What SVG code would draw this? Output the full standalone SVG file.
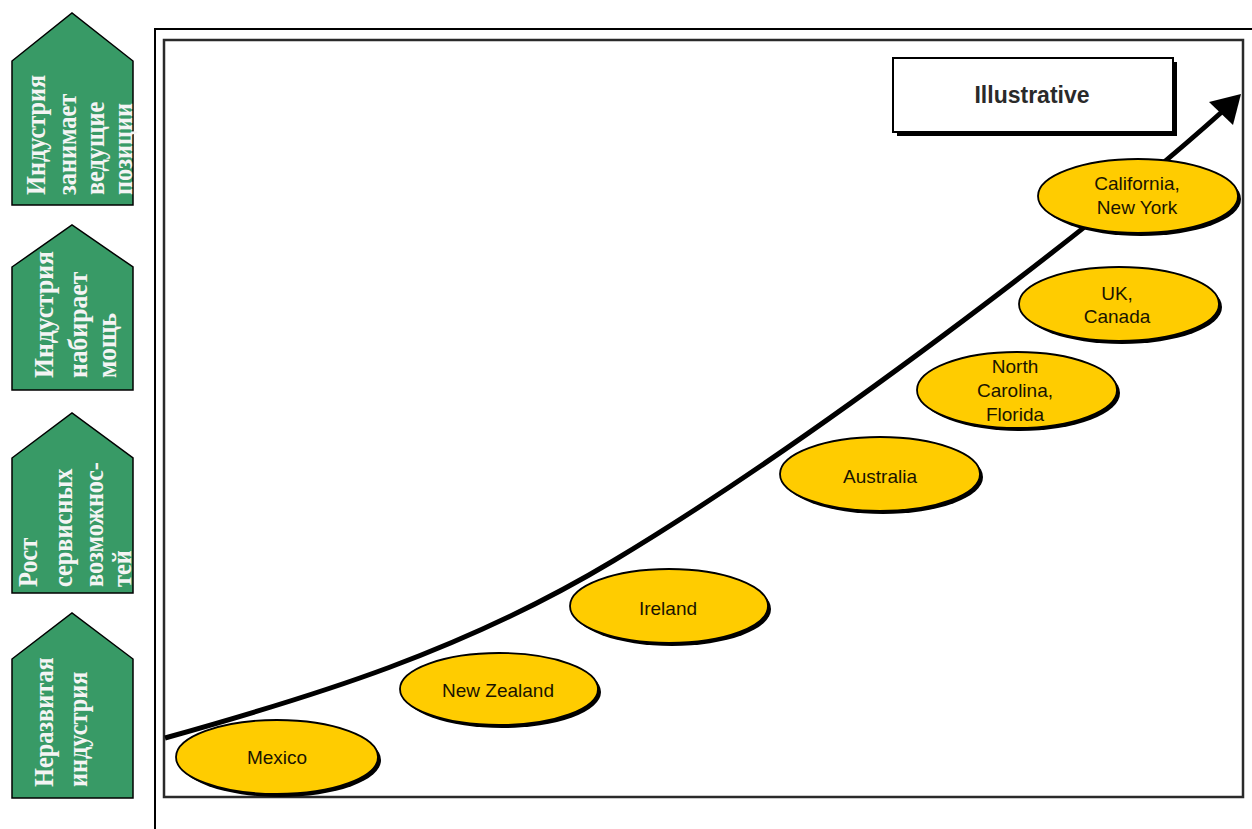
<svg xmlns="http://www.w3.org/2000/svg" width="1252" height="829" viewBox="0 0 1252 829">
<defs>
<style>
.stage{fill:#389a66;stroke:#000;stroke-width:1.5}
.st{font-family:"Liberation Serif","Times New Roman",serif;font-weight:bold;font-size:27px;fill:#f4f4f4}
.ell{fill:#ffcc00;stroke:#000;stroke-width:1.8}
.sh{fill:#000}
.lbl{font-family:"Liberation Sans",Arial,sans-serif;font-size:19px;fill:#1a1400;text-anchor:middle}
</style>
</defs>
<rect width="1252" height="829" fill="#fff"/>
<g id="frame">
<path d="M155,829 V29 H1252" fill="none" stroke="#000" stroke-width="2"/>
<rect x="164" y="40" width="1079" height="757" fill="#fff" stroke="#2a2a2a" stroke-width="2.5"/>
</g>
<g id="stage-4">
<polygon class="stage" points="12,61 72,13 133,61 133,205 12,205"/>
<text class="st" transform="translate(45,195) rotate(-90) scale(0.9,1)">Индустрия</text>
<text class="st" transform="translate(76,195) rotate(-90) scale(0.9,1)">занимает</text>
<text class="st" transform="translate(104,195) rotate(-90) scale(0.9,1)">ведущие</text>
<text class="st" transform="translate(132,195) rotate(-90) scale(0.9,1)">позиции</text>
</g>
<g id="stage-3">
<polygon class="stage" points="12,267 72,225 133,267 133,390 12,390"/>
<text class="st" transform="translate(53,378) rotate(-90) scale(0.95,1)">Индустрия</text>
<text class="st" transform="translate(87,378) rotate(-90) scale(0.95,1)">набирает</text>
<text class="st" transform="translate(116,378) rotate(-90) scale(0.95,1)">мощь</text>
</g>
<g id="stage-2">
<polygon class="stage" points="12,458 72,413 133,458 133,593 12,593"/>
<text class="st" transform="translate(37,587) rotate(-90) scale(0.9,1)">Рост</text>
<text class="st" transform="translate(72,587) rotate(-90) scale(0.9,1)">сервисных</text>
<text class="st" transform="translate(103,587) rotate(-90) scale(0.9,1)">возможнос-</text>
<text class="st" transform="translate(131,587) rotate(-90) scale(0.9,1)">тей</text>
</g>
<g id="stage-1">
<polygon class="stage" points="12,659 72,613 133,659 133,798 12,798"/>
<text class="st" transform="translate(53,787) rotate(-90) scale(0.9,1)">Неразвитая</text>
<text class="st" transform="translate(87,787) rotate(-90) scale(0.9,1)">индустрия</text>
</g>
<g id="illustrative">
<rect x="897" y="62" width="280" height="74" fill="#000"/>
<rect x="893" y="58" width="280" height="74" fill="#fff" stroke="#000" stroke-width="2"/>
<text x="1032" y="103" font-family="'Liberation Sans',Arial,sans-serif" font-weight="bold" font-size="23" fill="#2a2a2a" text-anchor="middle">Illustrative</text>
</g>
<g id="connectors">
<path d="M165,738 C315,696 463,651 613,561 C813,441 1094,227 1224,110" fill="none" stroke="#000" stroke-width="5"/>
<polygon points="1241,94 1209,102 1233,125" fill="#000"/>
</g>
<g id="mexico">
<ellipse class="sh" cx="280" cy="760" rx="101" ry="37"/>
<ellipse class="ell" cx="277" cy="757" rx="101" ry="37"/>
<text class="lbl" x="277" y="764">Mexico</text>
</g>
<g id="new-zealand">
<ellipse class="sh" cx="502" cy="692" rx="99" ry="36"/>
<ellipse class="ell" cx="499" cy="689" rx="99" ry="36"/>
<text class="lbl" x="498" y="697">New Zealand</text>
</g>
<g id="ireland">
<ellipse class="sh" cx="672" cy="609" rx="99" ry="37"/>
<ellipse class="ell" cx="669" cy="606" rx="99" ry="37"/>
<text class="lbl" x="668" y="615">Ireland</text>
</g>
<g id="australia">
<ellipse class="sh" cx="883" cy="477" rx="100" ry="37"/>
<ellipse class="ell" cx="880" cy="474" rx="100" ry="37"/>
<text class="lbl" x="880" y="483">Australia</text>
</g>
<g id="north-carolina-florida">
<ellipse class="sh" cx="1020" cy="393" rx="100" ry="38"/>
<ellipse class="ell" cx="1017" cy="390" rx="100" ry="38"/>
<text class="lbl" x="1015" y="373">North</text>
<text class="lbl" x="1015" y="397">Carolina,</text>
<text class="lbl" x="1015" y="421">Florida</text>
</g>
<g id="uk-canada">
<ellipse class="sh" cx="1122" cy="307" rx="100" ry="37"/>
<ellipse class="ell" cx="1119" cy="304" rx="100" ry="37"/>
<text class="lbl" x="1117" y="300">UK,</text>
<text class="lbl" x="1117" y="323">Canada</text>
</g>
<g id="california-new-york">
<ellipse class="sh" cx="1141" cy="199" rx="100" ry="37"/>
<ellipse class="ell" cx="1138" cy="196" rx="100" ry="37"/>
<text class="lbl" x="1137" y="190">California,</text>
<text class="lbl" x="1137" y="214">New York</text>
</g>
</svg>
